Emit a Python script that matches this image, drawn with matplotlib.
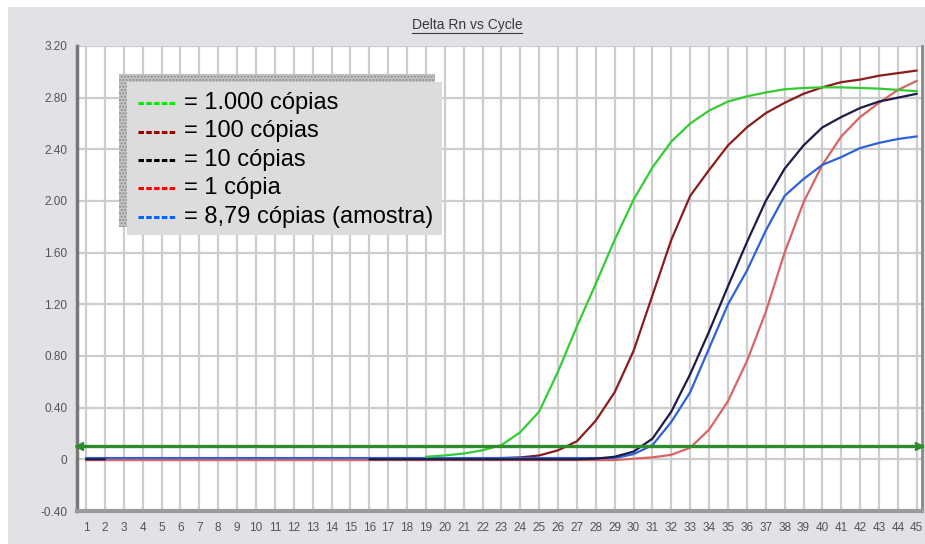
import numpy as np
import matplotlib
matplotlib.use('Agg')
import matplotlib.pyplot as plt
from matplotlib.patches import Rectangle
from matplotlib.lines import Line2D

plt.rcParams['font.family'] = ['Liberation Sans', 'DejaVu Sans']

# data
cycles = np.arange(1, 46)
nan = np.nan

green = [nan] * 18 + [0.02, 0.03, 0.045, 0.07, 0.11, 0.21, 0.37, 0.68, 1.03, 1.36,
                      1.70, 2.01, 2.26, 2.46, 2.60, 2.70, 2.77, 2.81, 2.84, 2.865,
                      2.875, 2.88, 2.88, 2.875, 2.87, 2.86, 2.85]
darkred = [nan] * 21 + [0.005, 0.01, 0.015, 0.03, 0.07, 0.14, 0.30, 0.52, 0.84, 1.27,
                        1.70, 2.04, 2.24, 2.43, 2.57, 2.68, 2.76, 2.83, 2.88, 2.92,
                        2.94, 2.97, 2.99, 3.01]
black = [0.0, 0.0] + [nan] * 13 + [0.0] * 12 + [0.005, 0.02, 0.06, 0.16, 0.37, 0.66,
                                               0.99, 1.34, 1.68, 2.00, 2.25, 2.43,
                                               2.57, 2.65, 2.72, 2.77, 2.80, 2.83]
red = [-0.006] * 29 + [0.005, 0.015, 0.035, 0.09, 0.23, 0.45, 0.76, 1.14, 1.60,
                       1.99, 2.28, 2.50, 2.65, 2.76, 2.86, 2.93]
blue = [0.01] * 28 + [0.01, 0.04, 0.11, 0.29, 0.52, 0.86, 1.20, 1.46, 1.77, 2.04,
                      2.17, 2.28, 2.34, 2.41, 2.45, 2.48, 2.50]
threshold = 0.10

labels = ['= 1.000 cópias', '= 100 cópias', '= 10 cópias', '= 1 cópia',
          '= 8,79 cópias (amostra)']
line_colors = ['#33cc33', '#8b1c1c', '#1c1c48', '#d96464', '#2f62d6']
legend_colors = ['#00ee00', '#990000', '#000000', '#ff0000', '#0066ff']
yticks = [-0.40, 0, 0.40, 0.80, 1.20, 1.60, 2.00, 2.40, 2.80, 3.20]
ytick_labels = ['-0.40', '0', '0.40', '0.80', '1.20', '1.60', '2.00', '2.40', '2.80', '3.20']

W, H = 925, 544
fig = plt.figure(figsize=(W / 100, H / 100), dpi=100, facecolor='white')


def fx(x):
    return x / W


def fy(y):
    return 1 - y / H


# grey panel behind the chart
fig.patches.append(Rectangle((fx(8), 0), 1, fy(7), transform=fig.transFigure,
                             facecolor='#e1e1e6', edgecolor='none', zorder=-5))

ax = fig.add_axes([fx(77), fy(511), fx(921.5) - fx(77), fy(46) - fy(511)])
ax.set_zorder(1)
ax.set_facecolor('white')
ax.set_xlim(0.52, 45.25)
ax.set_ylim(-0.40, 3.20)

# grid
for c in cycles:
    ax.axvline(c, color='#cdcdcd', lw=1.6, zorder=1)
for v in yticks:
    ax.axhline(v, color='#cdcdcd', lw=1.6, zorder=1)

series = [red, darkred, blue, black, green]
cols = [line_colors[3], line_colors[1], line_colors[4], line_colors[2], line_colors[0]]
for vals, col in zip(series, cols):
    ax.plot(cycles, vals, color=col, lw=1.6, zorder=3, solid_capstyle='round')

# threshold line with arrow heads
x0, x1 = ax.get_xlim()
ax.plot([x0, x1], [threshold, threshold], color='#2e8b2e', lw=2.4, zorder=4,
        clip_on=False)
ax.plot([x0 + 0.12], [threshold], marker='<', color='#2e8b2e', ms=6, zorder=5, clip_on=False)
ax.plot([x1 - 0.12], [threshold], marker='>', color='#2e8b2e', ms=6, zorder=5, clip_on=False)

ax.set_xticks(cycles)
ax.set_xticklabels([str(c) for c in cycles])
ax.set_yticks(yticks)
ax.set_yticklabels(ytick_labels)
ax.tick_params(axis='x', length=0, pad=8, labelsize=8.5, labelcolor='#555555')
ax.tick_params(axis='y', length=0, pad=7, labelsize=8.5, labelcolor='#555555')

ax.spines['top'].set_visible(False)
ax.spines['left'].set_color('#777777')
ax.spines['left'].set_linewidth(2.5)
ax.spines['bottom'].set_color('#9a9a9a')
ax.spines['bottom'].set_linewidth(3)
ax.spines['right'].set_color('#888888')
ax.spines['right'].set_linewidth(2)

# legend box with dotted shadow
fig.patches.append(Rectangle((fx(119), fy(227)), fx(435) - fx(119), fy(74) - fy(227),
                             transform=fig.transFigure, facecolor='#c4c4c4',
                             edgecolor='#8c8c8c', hatch='.....', lw=0, zorder=6))
fig.patches.append(Rectangle((fx(127), fy(235)), fx(442) - fx(127), fy(82) - fy(235),
                             transform=fig.transFigure, facecolor='#dcdcdc',
                             edgecolor='none', zorder=7))
for i, (lab, col) in enumerate(zip(labels, legend_colors)):
    yy = 103 + i * 28.5
    fig.lines.append(Line2D([fx(138), fx(177)], [fy(yy), fy(yy)], transform=fig.transFigure,
                            color=col, lw=2.2, dashes=(1.8, 0.75), zorder=8))
    fig.text(fx(184), fy(yy), lab, fontsize=17, color='black', va='center',
             ha='left', zorder=8)

# title, underlined
title = fig.text(fx(467), fy(25), 'Delta Rn vs Cycle', fontsize=10, color='#3a3a3a',
                 ha='center', va='center')
fig.canvas.draw()
bb = title.get_window_extent()
fig.lines.append(Line2D([bb.x0 / W, bb.x1 / W], [(bb.y0 - 0.5) / H] * 2,
                        transform=fig.transFigure, color='#3a3a3a', lw=0.8))

fig.savefig('out.png', dpi=100, facecolor='white')
